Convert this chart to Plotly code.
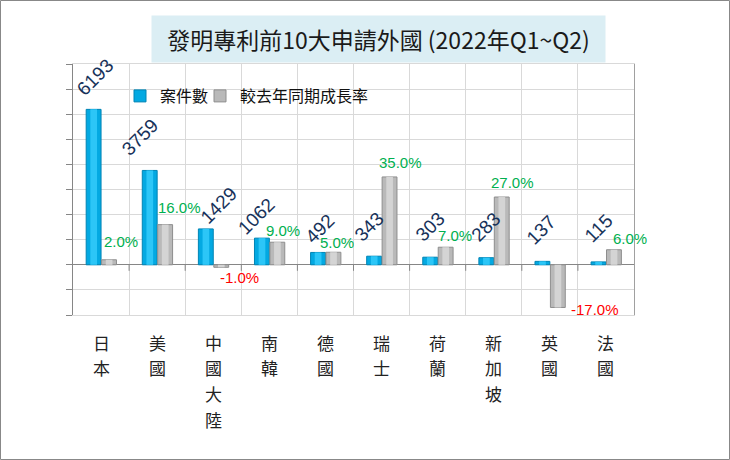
import plotly.graph_objects as go

# ---- data ----
categories = ["日本", "美國", "中國大陸", "南韓", "德國", "瑞士", "荷蘭", "新加坡", "英國", "法國"]
case_counts = [6193, 3759, 1429, 1062, 492, 343, 303, 283, 137, 115]
growth_rates = [2.0, 16.0, -1.0, 9.0, 5.0, 35.0, 7.0, 27.0, -17.0, 6.0]
title_text = "發明專利前10大申請外國 (2022年Q1~Q2)"
series_names = ["案件數", "較去年同期成長率"]

# ---- style (label nudges in pixels) ----
count_dx = [1, -10, 13, -6, 2, -5, 0, 0, -1, 0]
count_dy = [32, 33, 23, 22, 24, 30, 31, 31, 32, 33]
growth_dx = [12, 14, 18, 6, 4, 11, 9, 11, 37, 16]
growth_dy = [18, 17, -10, 12, 10, 14, 12, 15, -2, 11]

W, H = 730, 460
L, R, T, B = 73, 96, 64, 145
PW, PH = W - L - R, H - T - B

BLUE = "#03A9E2"
BLUE_HI = "#2CC6F7"
BLUE_EDGE = "#0084B4"
GREY = "#B9B9B9"
GREY_HI = "#D4D4D4"
GREY_EDGE = "#8E8E8E"
GRID = "#D9D9D9"
AXIS = "#868686"
NUM_FONT = "Liberation Sans, Arial, Noto Sans CJK TC"
CJK_FONT = "Noto Sans CJK TC, Liberation Sans"

x_idx = list(range(len(categories)))
BW = 0.265

fig = go.Figure()
fig.add_trace(go.Bar(
    x=x_idx, y=case_counts, name=series_names[0], yaxis="y", legend="legend",
    width=BW, offset=-BW,
    marker=dict(color=BLUE, line=dict(color=BLUE_EDGE, width=1)),
    hoverinfo="skip",
))
fig.add_trace(go.Bar(
    x=x_idx, y=growth_rates, name=series_names[1], yaxis="y2", legend="legend2",
    width=BW, offset=0.01,
    marker=dict(color=GREY, line=dict(color=GREY_EDGE, width=1)),
    hoverinfo="skip",
))
# cylinder-like highlight strips
fig.add_trace(go.Bar(
    x=x_idx, y=case_counts, yaxis="y", showlegend=False,
    width=BW * 0.45, offset=-BW * 0.72,
    marker=dict(color=BLUE_HI, line=dict(width=0)), hoverinfo="skip",
))
fig.add_trace(go.Bar(
    x=x_idx, y=growth_rates, yaxis="y2", showlegend=False,
    width=BW * 0.45, offset=0.01 + BW * 0.28,
    marker=dict(color=GREY_HI, line=dict(width=0)), hoverinfo="skip",
))

annotations = []
for i, v in enumerate(case_counts):
    annotations.append(dict(
        x=i, y=v, xref="x", yref="y", text=str(v), showarrow=False,
        textangle=-45, xanchor="center", yanchor="middle",
        xshift=-7.4 + count_dx[i], yshift=count_dy[i],
        font=dict(family=NUM_FONT, size=19, color="#17325A"),
    ))
for i, v in enumerate(growth_rates):
    annotations.append(dict(
        x=i, y=v, xref="x", yref="y2", text=f"{v:.1f}%", showarrow=False,
        xanchor="center", yanchor="middle",
        xshift=8 + growth_dx[i], yshift=growth_dy[i],
        font=dict(family=NUM_FONT, size=15, color="#00B050" if v >= 0 else "#FF0000"),
    ))
# category labels, written vertically one character per line
for i, name in enumerate(categories):
    for k, ch in enumerate(name):
        annotations.append(dict(
            x=i, y=0, xref="x", yref="paper", text=ch, showarrow=False,
            xanchor="center", yanchor="middle", yshift=-(27 + k * 25.7),
            font=dict(family=CJK_FONT, size=17, color="#222222"),
        ))
annotations.append(dict(
    x=(378.5 - L) / PW, y=(T + PH - 39) / PH, xref="paper", yref="paper",
    text=title_text, showarrow=False, xanchor="center", yanchor="middle",
    bgcolor="#DBEEF4", width=453, height=46, borderpad=0,
    font=dict(family=CJK_FONT, size=23, color="#1A1A1A"),
))

shapes = []
for i in range(len(categories) - 1):
    shapes.append(dict(
        type="line", xref="x", yref="y", x0=i + 0.5, x1=i + 0.5,
        ysizemode="pixel", yanchor=0, y0=0, y1=-6,
        line=dict(color=AXIS, width=1),
    ))
shapes.append(dict(
    type="rect", xref="paper", yref="paper",
    x0=(-L + 0.5) / PW, x1=(W - L - 0.5) / PW,
    y0=(-B + 0.5) / PH, y1=(PH + T - 0.5) / PH,
    line=dict(color="#888888", width=1), fillcolor="rgba(0,0,0,0)",
))

legend_style = dict(
    orientation="h", xanchor="left", yanchor="middle", y=(T + PH - 96) / PH,
    bgcolor="rgba(0,0,0,0)", itemwidth=30,
    font=dict(family=CJK_FONT, size=16, color="#111111"),
)

fig.update_layout(
    width=W, height=H,
    margin=dict(l=L, r=R, t=T, b=B, pad=0),
    paper_bgcolor="white", plot_bgcolor="white",
    showlegend=True,
    legend=dict(legend_style, x=(120 - L) / PW),
    legend2=dict(legend_style, x=(200 - L) / PW),
    annotations=annotations,
    shapes=shapes,
    xaxis=dict(
        type="linear", range=[-0.5, len(categories) - 0.5],
        tickmode="array", tickvals=x_idx, showticklabels=False,
        showgrid=False, ticks="", zeroline=False,
        showline=True, linecolor=GRID, mirror=True,
        minor=dict(tickmode="array", tickvals=[i + 0.5 for i in x_idx[:-1]],
                   showgrid=True, gridcolor=GRID, gridwidth=1, ticks=""),
    ),
    yaxis=dict(
        range=[-2000, 8000], dtick=1000, tick0=0,
        showgrid=True, gridcolor=GRID, gridwidth=1,
        showticklabels=False, ticks="outside", ticklen=6, tickcolor=AXIS,
        showline=True, linecolor=AXIS, linewidth=1,
        zeroline=True, zerolinecolor=AXIS, zerolinewidth=1,
    ),
    yaxis2=dict(
        range=[-20, 80], overlaying="y", side="right",
        showgrid=False, showticklabels=False, ticks="", zeroline=False,
        showline=True, linecolor="#A0A0A0", linewidth=1,
    ),
    barmode="overlay",
)

fig.write_html("out.html", config={"displayModeBar": False},
               post_script="document.body.style.margin='0';")
